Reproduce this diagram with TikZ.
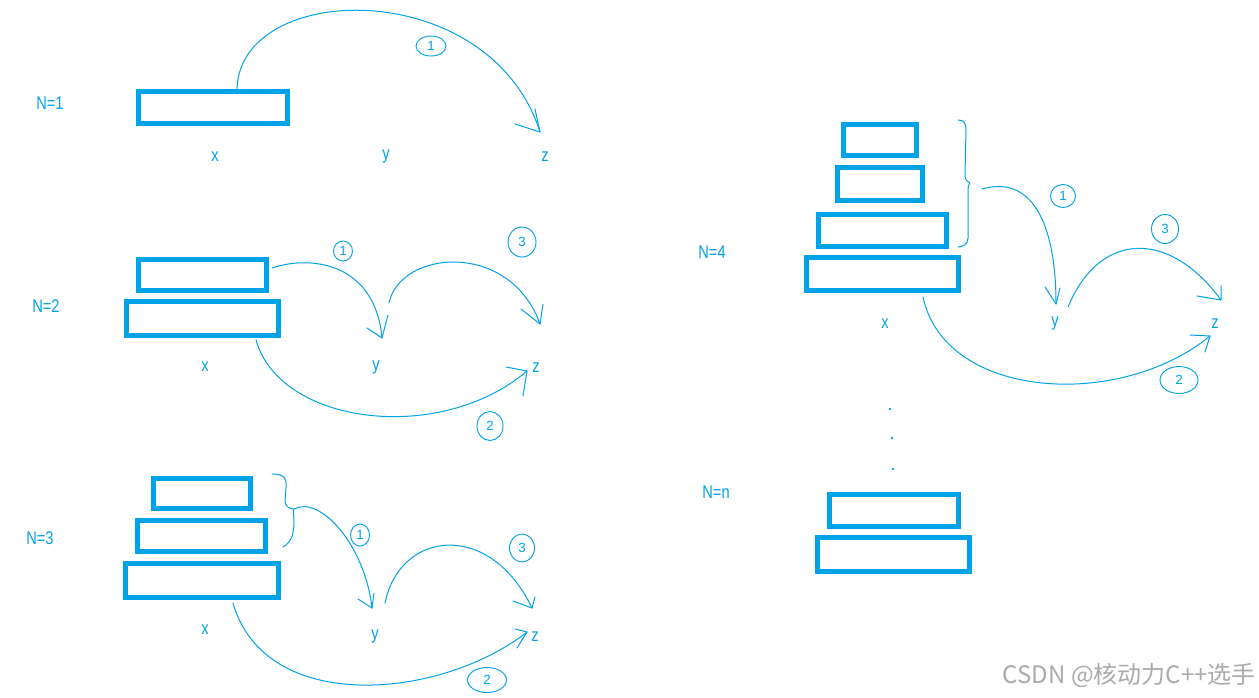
\documentclass[tikz,border=0pt]{standalone}
\usepackage{fontspec}
\setmainfont{Liberation Sans}
\newfontfamily\cjkfont{Noto Sans CJK SC}
\usetikzlibrary{shapes.geometric}
\definecolor{hb}{HTML}{00A2E8}
\definecolor{wm}{HTML}{ABABAB}
\tikzset{
 hdisk/.style 2 args={draw=hb, line width=3.75pt, minimum width=#1*0.75pt-3.75pt, minimum height=#2*0.75pt-3.75pt, inner sep=0pt, outer sep=0pt},
 lbl/.style={text=hb, font=\fontsize{11}{13}\selectfont, inner sep=0pt, yscale=1.25},
 stroke/.style={draw=hb, line width=0.75pt, line cap=round, line join=round},
 num/.style 2 args={ellipse, draw=hb, line width=0.7pt, minimum width=#1*0.75pt, minimum height=#2*0.75pt, inner sep=0pt, text=hb, font=\fontsize{10}{11}\selectfont},
 dotmark/.style={fill=hb, circle, inner sep=0pt, minimum size=2.2pt},
}
\newcommand\tiphead[3]{\draw[stroke] (#1) -- ++(#2) (#1) -- ++(#3);}
\begin{document}
\begin{tikzpicture}[x=0.75pt, y=-0.75pt]
\fill[white] (0,0) rectangle (1259,697);
\useasboundingbox (0,0) rectangle (1259,697);

% ---------------- N=1 ----------------
\node[lbl] (n1) at (50,103) {N=1};
\node[hdisk={154}{37}] (d11) at (213,107.5) {};
\node[lbl] (x1) at (215,157) {x};
\node[lbl] (y1) at (386,157) {y};
\node[lbl] (z1) at (545,157) {z};
\coordinate (a1s) at (237,89);
\coordinate (a1e) at (540,132);
\draw[stroke] (a1s) .. controls (240,-20) and (490,-25) .. (a1e);
\tiphead{a1e}{-25,-8}{-5,-23}
\node[num={30}{20}] (c11) at (431,46) {1};

% ---------------- N=2 ----------------
\node[lbl] (n2) at (46,306) {N=2};
\node[hdisk={133}{36}] (d21) at (202.5,275) {};
\node[hdisk={157}{39}] (d22) at (202.5,318.5) {};
\node[lbl] (x2) at (205,367) {x};
\node[lbl] (y2) at (376,368) {y};
\node[lbl] (z2) at (536,368) {z};
% move 1
\coordinate (b1s) at (272,268);
\coordinate (b1e) at (382,338);
\draw[stroke] (b1s) .. controls (310,255) and (375,262) .. (b1e);
\tiphead{b1e}{-15,-10}{6,-23}
\node[num={19}{20}] (c21) at (343,251) {1};
% move 2
\coordinate (b2s) at (256,340);
\coordinate (b2e) at (527,371);
\draw[stroke] (b2s) .. controls (280,425) and (440,445) .. (b2e);
\tiphead{b2e}{-21,-4}{-4,25}
\node[num={26}{29}] (c22) at (490,426) {2};
% move 3
\coordinate (b3s) at (389,303);
\coordinate (b3e) at (540,324);
\draw[stroke] (b3s) .. controls (400,250) and (510,240) .. (b3e);
\tiphead{b3e}{-19,-15}{3,-20}
\node[num={28}{30}] (c23) at (522,242) {3};

% ---------------- N=3 ----------------
\node[lbl] (n3) at (40,538) {N=3};
\node[hdisk={102}{35}] (d31) at (202,493.5) {};
\node[hdisk={133}{36}] (d32) at (201.5,536) {};
\node[hdisk={158}{39}] (d33) at (202,580.5) {};
\node[lbl] (x3) at (205,630) {x};
\node[lbl] (y3) at (375,637) {y};
\node[lbl] (z3) at (535,637) {z};
\coordinate (br3m) at (294,509);
\draw[stroke] (272,474) .. controls (284,474) and (287,478) .. (286,488) -- (285,502)
  .. controls (286,507) and (290,509) .. (br3m)
  .. controls (293,512) and (294,516) .. (294,525) -- (293,532)
  .. controls (292,540) and (287,545) .. (283,547);
% move 1
\coordinate (e1e) at (372,608);
\draw[stroke] (br3m) .. controls (320,495) and (365,545) .. (e1e);
\tiphead{e1e}{-14,-9}{2,-15}
\node[num={19}{22}] (c31) at (360,535) {1};
% move 2
\coordinate (e2s) at (233,603);
\coordinate (e2e) at (527,632);
\draw[stroke] (e2s) .. controls (265,715) and (440,700) .. (e2e);
\tiphead{e2e}{-12,-3}{-10,16}
\node[num={39}{25}] (c32) at (487,680) {2};
% move 3
\coordinate (e3s) at (385,603);
\coordinate (e3e) at (532,608);
\draw[stroke] (e3s) .. controls (400,530) and (490,520) .. (e3e);
\tiphead{e3e}{-19,-7}{3,-11}
\node[num={25}{28}] (c33) at (522,548) {3};

% ---------------- N=4 ----------------
\node[lbl] (n4) at (712,252) {N=4};
\node[hdisk={78}{36}] (d41) at (880,140) {};
\node[hdisk={90}{38}] (d42) at (880,184) {};
\node[hdisk={133}{37}] (d43) at (882.5,230.5) {};
\node[hdisk={157}{38}] (d44) at (882.5,274) {};
\node[lbl] (x4) at (885,324) {x};
\node[lbl] (y4) at (1055,324) {y};
\node[lbl] (z4) at (1215,324) {z};
\coordinate (br4m) at (970,183);
\draw[stroke] (958,120) .. controls (964,120) and (966,123) .. (966,130) -- (965,176)
  .. controls (965,180) and (968,182) .. (br4m)
  .. controls (968,185) and (968,188) .. (968,195) -- (968,238)
  .. controls (968,244) and (963,247) .. (958,247);
% move 1
\coordinate (f1s) at (982,189);
\coordinate (f1e) at (1056,304);
\draw[stroke] (f1s) .. controls (1030,175) and (1056,220) .. (f1e);
\tiphead{f1e}{-11,-17}{4,-16}
\node[num={25}{23}] (c41) at (1063,196) {1};
% move 2
\coordinate (f2s) at (923,297);
\coordinate (f2e) at (1210,336);
\draw[stroke] (f2s) .. controls (945,400) and (1120,410) .. (f2e);
\tiphead{f2e}{-20,-1}{-5,16}
\node[num={38}{27}] (c42) at (1179,380) {2};
% move 3
\coordinate (f3s) at (1068,307);
\coordinate (f3e) at (1221,300);
\draw[stroke] (f3s) .. controls (1100,230) and (1170,230) .. (f3e);
\tiphead{f3e}{-24,-4}{0,-14}
\node[num={27}{29}] (c43) at (1165,229) {3};

% ---------------- dots and N=n ----------------
\node[dotmark] (dot1) at (890,409) {};
\node[dotmark] (dot2) at (892,438) {};
\node[dotmark] (dot3) at (893,469) {};
\node[lbl] (nn) at (716,492) {N=n};
\node[hdisk={134}{37}] (dn1) at (894,510.5) {};
\node[hdisk={157}{39}] (dn2) at (893.5,554.5) {};

% ---------------- watermark ----------------
\node[anchor=east, text=wm, inner sep=0pt, font=\cjkfont\fontsize{18}{20}\selectfont] (wmk) at (1256,675) {CSDN @核动力C++选手};
\end{tikzpicture}
\end{document}
